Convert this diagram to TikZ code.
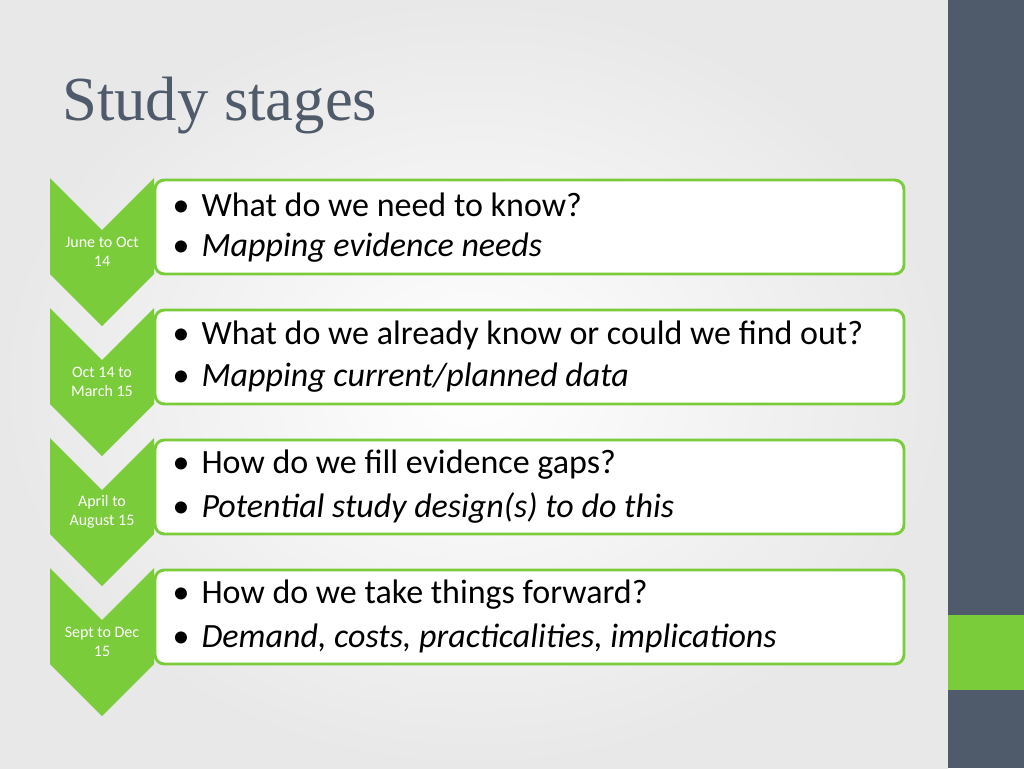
\documentclass[tikz,border=0pt]{standalone}
\usepackage{fontspec}
\setmainfont{Carlito}
\newfontfamily\headfont{Liberation Serif}
\usetikzlibrary{calc}
\definecolor{leaf}{HTML}{7ACC3A}
\definecolor{slate}{HTML}{4F5B6B}
\tikzset{
  stagebox/.style={draw=leaf, line width=2.2pt, rounded corners=7pt, fill=white},
  chev/.style={fill=leaf},
  when/.style={text=white, font=\fontsize{12}{14}\selectfont, align=center},
  item/.style={anchor=west, font=\fontsize{25.5}{28}\selectfont}
}
\begin{document}
\begin{tikzpicture}[x=0.75pt,y=-0.75pt]

% Background and side bar.

	\shade[inner color=white, outer color=black!9] (0,0) rectangle (948,768);
	\fill[slate] (948,0) rectangle (1024,768);
	\fill[leaf] (948,615) rectangle (1024,690);
	\useasboundingbox (0,0) rectangle (1024,768);

% Title.

	\node[anchor=base west, inner sep=0pt, text=slate, font=\headfont\fontsize{47}{52}\selectfont] (title) at (62,120) {Study stages};

% Stages.

	\foreach \y/\dates/\ask/\how [count=\i] in {
		178/{June to Oct\\14}/{What do we need to know?}/{Mapping evidence needs},
		308/{Oct 14 to\\March 15}/{What do we already know or could we find out?}/{Mapping current/planned data},
		438/{April to\\August 15}/{How do we fill evidence gaps?}/{Potential study design(s) to do this},
		568/{Sept to Dec\\15}/{How do we take things forward?}/{Demand, costs, practicalities, implications}}
	{
		\draw[stagebox] (155,\y+2) rectangle (904,\y+96);
		\fill[chev] (50,\y) -- (102,\y+52) -- (154,\y) -- (154,\y+96) -- (102,\y+148) -- (50,\y+96) -- cycle;
		\node[when] (date\i) at (102,\y+74) {\dates};
		\node[item] (ask\i) at (168,\y+27) {\textbullet\hspace{0.35em}\ask};
		\node[item] (how\i) at (168,\y+70) {\textbullet\hspace{0.35em}\textit{\how}};
	}

\end{tikzpicture}
\end{document}
